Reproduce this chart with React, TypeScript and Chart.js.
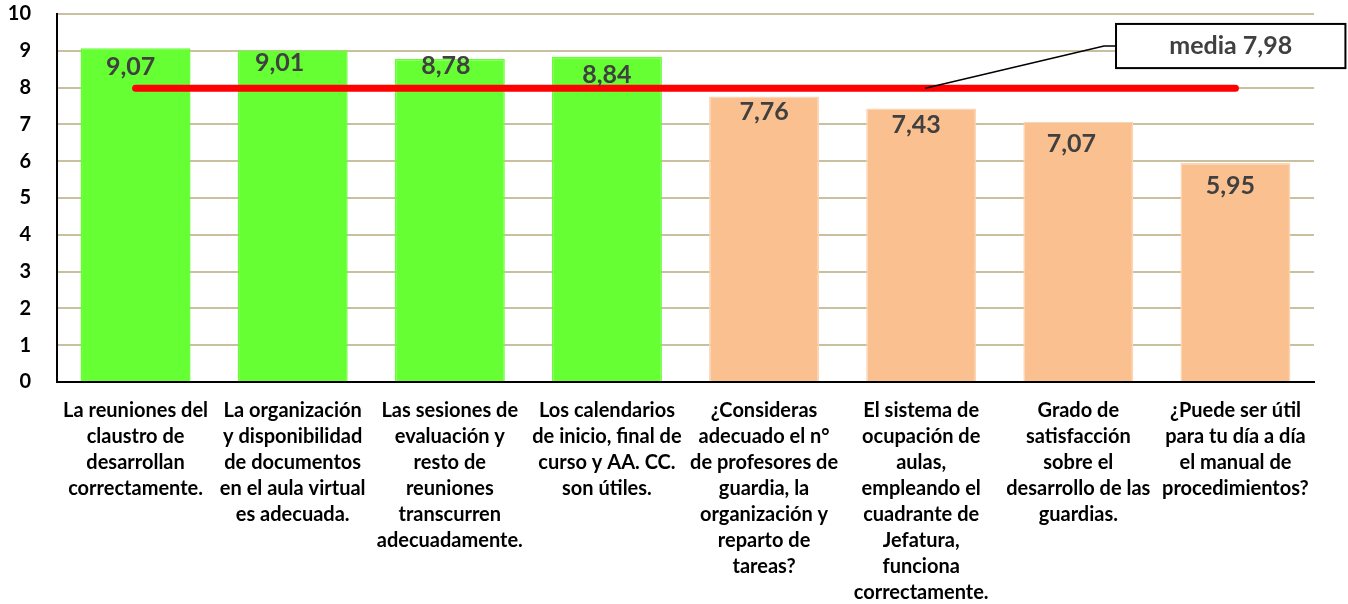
import React, { useEffect, useRef } from "react";
import { Chart, registerables } from "chart.js";

Chart.register(...registerables);

const categories: string[][] = [
  ["La reuniones del", "claustro de", "desarrollan", "correctamente."],
  ["La organización", "y disponibilidad", "de documentos", "en el aula virtual", "es adecuada."],
  ["Las sesiones de", "evaluación y", "resto de", "reuniones", "transcurren", "adecuadamente."],
  ["Los calendarios", "de inicio, final de", "curso y AA. CC.", "son útiles."],
  ["¿Consideras", "adecuado el n°", "de profesores de", "guardia, la", "organización y", "reparto de", "tareas?"],
  ["El sistema de", "ocupación de", "aulas,", "empleando el", "cuadrante de", "Jefatura,", "funciona", "correctamente."],
  ["Grado de", "satisfacción", "sobre el", "desarrollo de las", "guardias."],
  ["¿Puede ser útil", "para tu día a día", "el manual de", "procedimientos?"],
];
const values: number[] = [9.07, 9.01, 8.78, 8.84, 7.76, 7.43, 7.07, 5.95];
const valueLabels: string[] = ["9,07", "9,01", "8,78", "8,84", "7,76", "7,43", "7,07", "5,95"];
const barColors: string[] = ["#66FF33", "#66FF33", "#66FF33", "#66FF33", "#FAC090", "#FAC090", "#FAC090", "#FAC090"];
const barBorders: string[] = ["#66FF33", "#66FF33", "#66FF33", "#66FF33", "#FCD5B4", "#FCD5B4", "#FCD5B4", "#FCD5B4"];
const mean = 7.98;
const meanLabel = "media 7,98";
const meanValues: number[] = values.map(() => mean);

const FONT = "Lato, 'Open Sans', sans-serif";

// label placement tweaks (style), relative to each bar's top centre
const LABEL_DX = [-5, -13, -4, 0, 0, -5, -7, -5];
const LABEL_DY = [19, 13, 7, 18, 16, 16, 22, 23];

const labelPlugin = {
  id: "valueLabels",
  afterDatasetsDraw(chart: any) {
    const ctx = chart.ctx;
    const meta = chart.getDatasetMeta(0);
    ctx.save();
    ctx.fillStyle = "#404040";
    ctx.font = `bold 25px ${FONT}`;
    ctx.textAlign = "center";
    ctx.textBaseline = "middle";
    meta.data.forEach((bar: any, i: number) => {
      ctx.fillText(valueLabels[i], bar.x + LABEL_DX[i], bar.y + LABEL_DY[i]);
    });
    ctx.restore();
  },
};

const annotationPlugin = {
  id: "meanBox",
  afterDraw(chart: any) {
    const ctx = chart.ctx;
    const xs = chart.scales.x;
    const ys = chart.scales.y;
    const ax = xs.getPixelForValue(5) + 4;
    const ay = ys.getPixelForValue(mean);
    const left = xs.getPixelForValue(6.24);
    const right = xs.getPixelForValue(7.7);
    const top = ys.getPixelForValue(9.73);
    const bottom = ys.getPixelForValue(8.53);
    const midY = (top + bottom) / 2;
    ctx.save();
    ctx.strokeStyle = "#000";
    ctx.lineWidth = 1.5;
    ctx.beginPath();
    ctx.moveTo(ax, ay);
    ctx.lineTo(left - 12, midY);
    ctx.lineTo(left, midY);
    ctx.stroke();
    ctx.fillStyle = "#fff";
    ctx.fillRect(left, top, right - left, bottom - top);
    ctx.lineWidth = 2;
    ctx.strokeRect(left, top, right - left, bottom - top);
    ctx.fillStyle = "#404040";
    ctx.font = `bold 25px ${FONT}`;
    ctx.textAlign = "center";
    ctx.textBaseline = "middle";
    ctx.fillText(meanLabel, (left + right) / 2, midY);
    ctx.restore();
  },
};

export default function App() {
  const ref = useRef<HTMLCanvasElement | null>(null);
  useEffect(() => {
    if (!ref.current) return;
    const chart = new Chart(ref.current, {
      type: "bar",
      data: {
        labels: categories,
        datasets: [
          {
            type: "bar",
            data: values,
            backgroundColor: barColors,
            borderColor: barBorders,
            borderWidth: 1.5,
            barPercentage: 0.7,
            categoryPercentage: 1,
            order: 2,
          },
          {
            type: "line",
            data: meanValues,
            borderColor: "#FF0000",
            borderWidth: 7,
            borderCapStyle: "round",
            pointRadius: 0,
            fill: false,
            order: 1,
          } as any,
        ],
      },
      options: {
        animation: false,
        responsive: false,
        maintainAspectRatio: false,
        layout: { padding: { top: 14, right: 34, left: 0, bottom: 0 } },
        plugins: { legend: { display: false }, tooltip: { enabled: false }, title: { display: false } },
        scales: {
          x: {
            grid: { display: false },
            border: { color: "#000", width: 2 },
            ticks: {
              color: "#000",
              font: { family: FONT, size: 20, weight: "bold", lineHeight: "26px" },
              maxRotation: 0,
              autoSkip: false,
              padding: 8,
            },
            afterFit(scale: any) {
              scale.height = 222;
              scale.paddingLeft = 0;
              scale.paddingRight = 0;
            },
          },
          y: {
            min: 0,
            max: 10,
            ticks: {
              stepSize: 1,
              color: "#000",
              font: { family: FONT, size: 20, weight: "bold" },
              padding: 26,
            },
            grid: { color: "#C8C09E", lineWidth: 2, drawTicks: false },
            border: { color: "#000", width: 2 },
            afterFit(scale: any) {
              scale.width = 57;
              scale.paddingTop = 0;
              scale.paddingBottom = 0;
            },
          },
        },
      } as any,
      plugins: [labelPlugin, annotationPlugin],
    });
    return () => chart.destroy();
  }, []);
  return (
    <div style={{ position: "fixed", left: 0, top: 0, width: 1348, height: 604, background: "#fff" }}>
      <canvas ref={ref} width={1348} height={604} />
    </div>
  );
}
